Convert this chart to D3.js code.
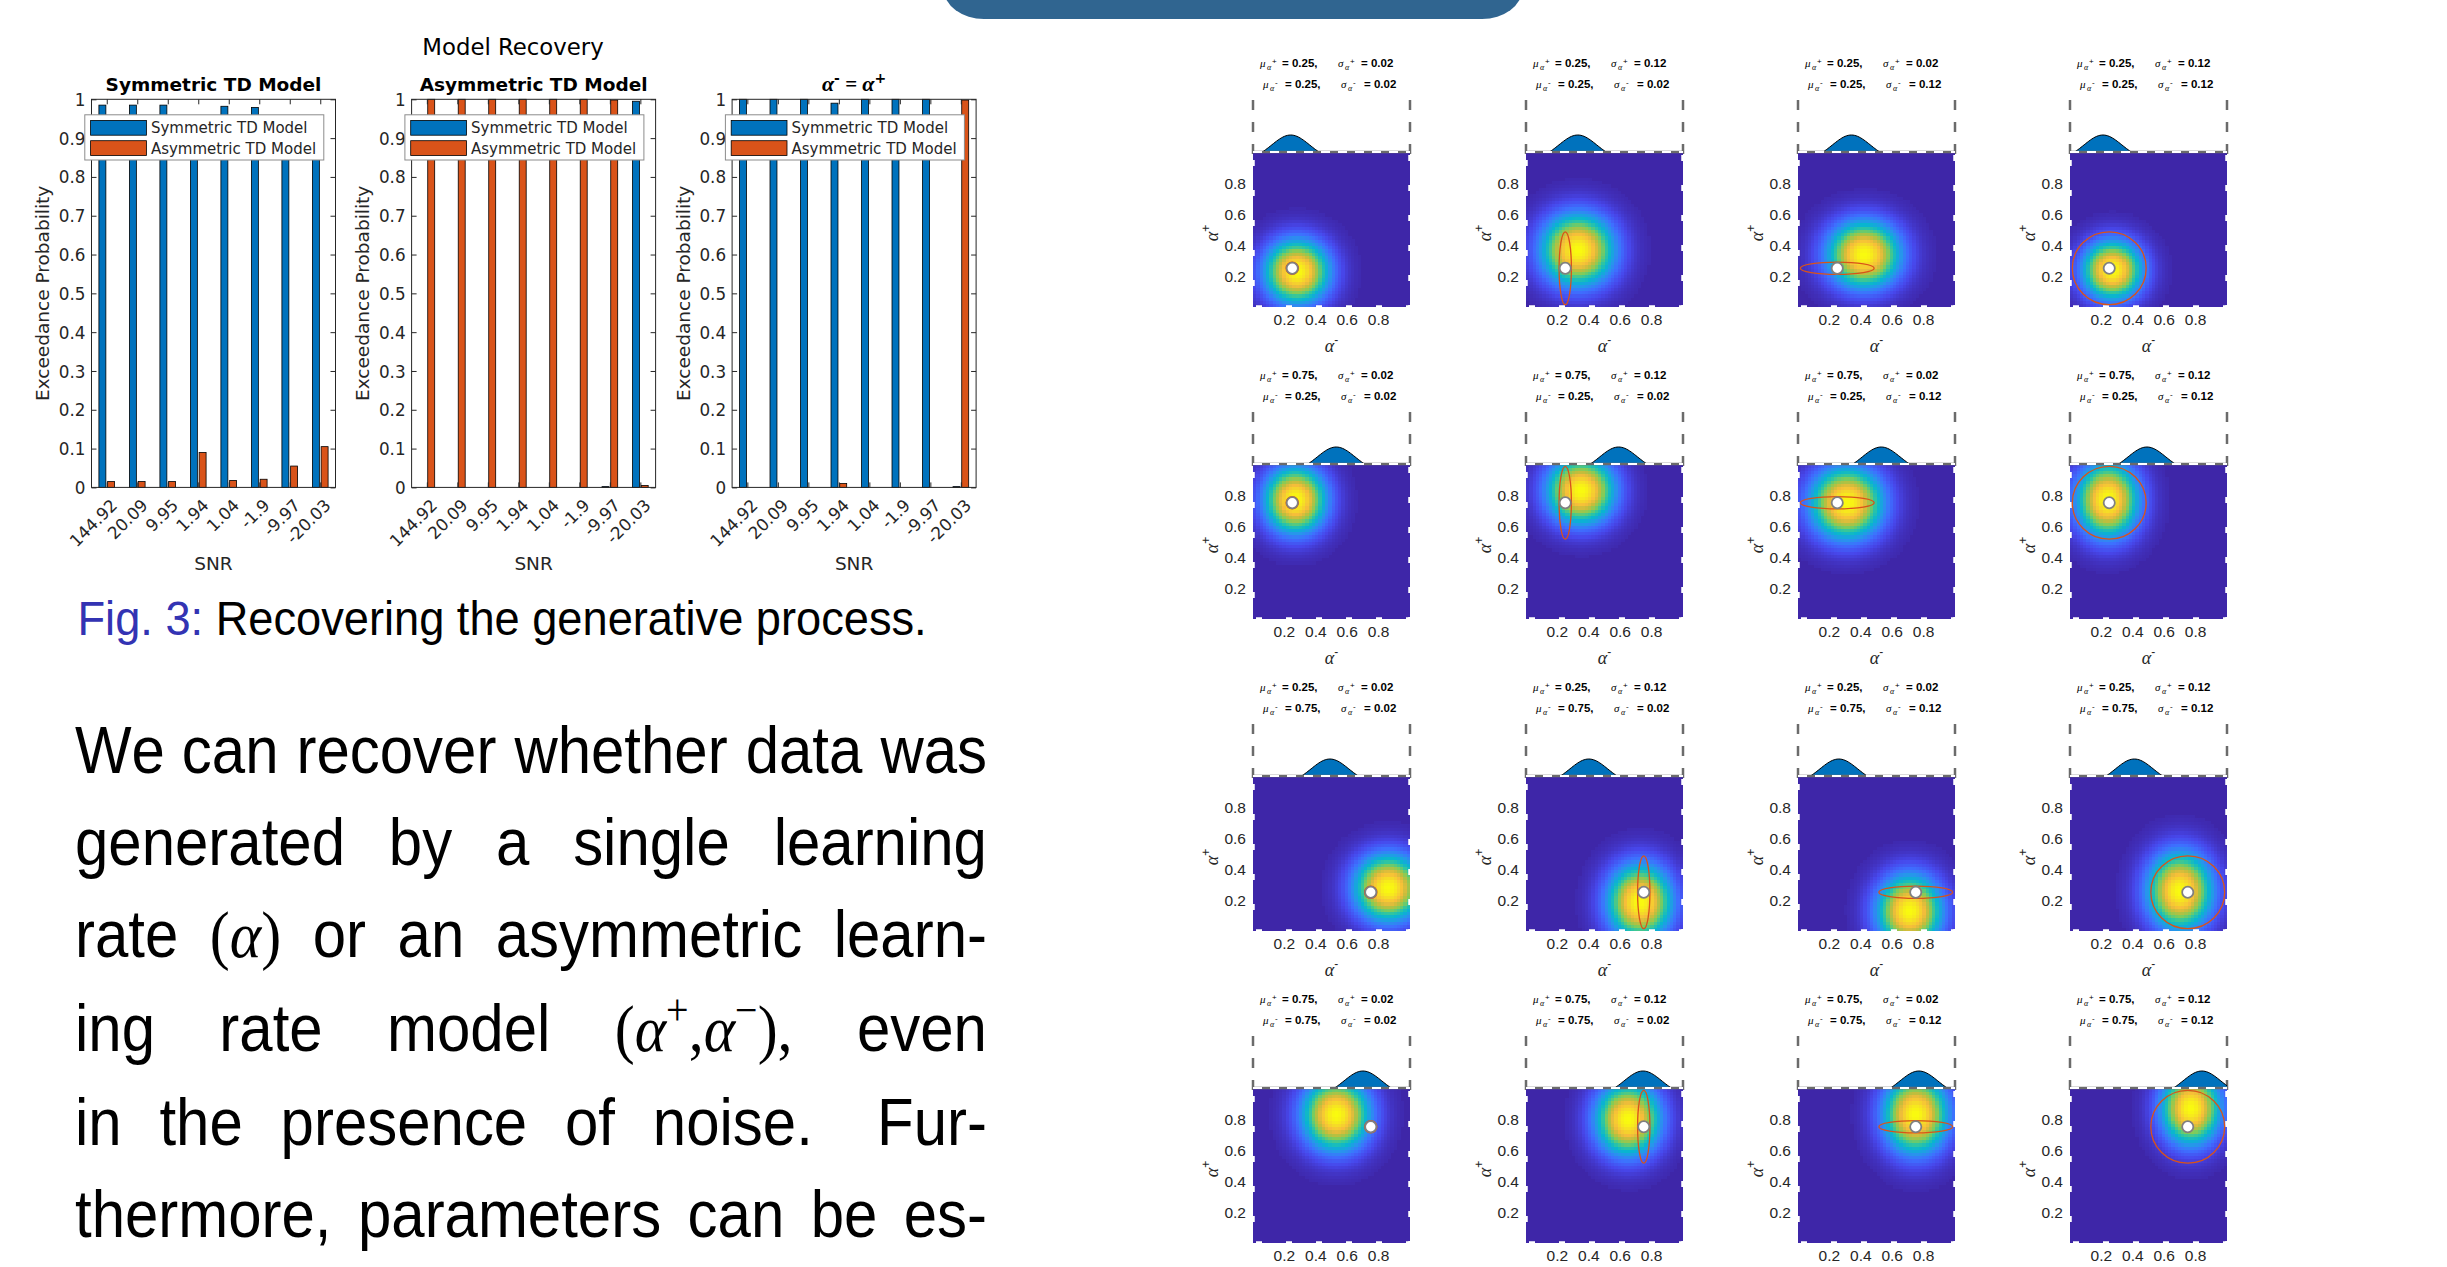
<!DOCTYPE html>
<html>
<head>
<meta charset="utf-8">
<script src="https://cdn.jsdelivr.net/npm/d3@7"></script>
<style>
  body { margin: 0; background: #fff; }
</style>
</head>
<body>
<svg id="fig" width="2447" height="1267"></svg>
<script>
// ---------- data: model recovery bar charts ----------
var snrLabels = ["144.92", "20.09", "9.95", "1.94", "1.04", "-1.9", "-9.97", "-20.03"];
var legendNames = ["Symmetric TD Model", "Asymmetric TD Model"];
var probTicks = [0, 0.1, 0.2, 0.3, 0.4, 0.5, 0.6, 0.7, 0.8, 0.9, 1];

// exceedance probabilities, one value per SNR level
var symGenSym  = [0.985, 0.985, 0.985, 0.91, 0.982, 0.979, 0.945, 0.895];
var symGenAsym = [0.015, 0.015, 0.015, 0.09, 0.018, 0.021, 0.055, 0.105];
var asymGenSym  = [0, 0, 0, 0, 0, 0, 0.002, 0.995];
var asymGenAsym = [1, 1, 1, 1, 1, 1, 0.998, 0.005];
var eqGenSym  = [1, 1, 1, 0.99, 1, 1, 1, 0.002];
var eqGenAsym = [0, 0, 0, 0.01, 0, 0, 0, 0.998];

// ---------- data: parameter recovery grid ----------
// true means per row, true sds per column
var muPlus   = [0.25, 0.75, 0.25, 0.75];
var muMinus  = [0.25, 0.25, 0.75, 0.75];
var sdPlus   = [0.02, 0.12, 0.02, 0.12];
var sdMinus  = [0.02, 0.02, 0.12, 0.12];
// recovered density peak (alpha-, alpha+) and spread, read per panel (row by row)
var peakMinus = [0.28, 0.33, 0.42, 0.27,  0.27, 0.35, 0.31, 0.24,  0.86, 0.725, 0.71, 0.70,  0.53, 0.65, 0.75, 0.77];
var peakPlus  = [0.23, 0.37, 0.34, 0.24,  0.77, 0.83, 0.75, 0.77,  0.28, 0.19, 0.13, 0.26,  0.83, 0.80, 0.83, 0.87];
var spreadMinus = [0.12, 0.135, 0.135, 0.11,  0.115, 0.125, 0.135, 0.115,  0.125, 0.12, 0.12, 0.12,  0.125, 0.12, 0.12, 0.11];
var spreadPlus  = [0.12, 0.135, 0.125, 0.11,  0.125, 0.125, 0.135, 0.14,  0.125, 0.14, 0.135, 0.145, 0.135, 0.135, 0.145, 0.135];
// centre of the marginal bump drawn above each panel
var bumpCenter = [0.24, 0.33, 0.34, 0.21,  0.53, 0.59, 0.53, 0.49,  0.49, 0.40, 0.26, 0.41,  0.70, 0.745, 0.77, 0.84];
var alphaTicks = [0.2, 0.4, 0.6, 0.8];

// parula colour map
var parulaPos = [0, 0.1, 0.2, 0.3, 0.4, 0.5, 0.6, 0.7, 0.8, 0.9, 1];
var parulaCol = ["#3e26a8", "#4747eb", "#3e6fff", "#2796eb", "#08b5d0", "#31c69f",
                 "#81cc59", "#c2bd3c", "#f6bd3a", "#f5dc27", "#f9fb0e"];

// ---------- data: text ----------
var paraLines = [
  ["We", "can", "recover", "whether", "data", "was"],
  ["generated", "by", "a", "single", "learning"],
  ["rate", "(α)", "or", "an", "asymmetric", "learn-"],
  ["ing", "rate", "model", "(α+,α−),", "even"],
  ["in", "the", "presence", "of", "noise.", "Fur-"],
  ["thermore,", "parameters", "can", "be", "es-"]
];

var svg = d3.select("#fig");
var ink = "#262626";
var sans = "'DejaVu Sans', sans-serif";
var helv = "'Liberation Sans', Arial, sans-serif";
var serif = "'Liberation Serif', 'Times New Roman', serif";

// header tab of the poster
svg.append("rect")
  .attr("x", 944).attr("y", -40)
  .attr("width", 578).attr("height", 59)
  .attr("rx", 40)
  .attr("fill", "#306590");

// ================= bar charts =================
svg.append("text")
  .attr("x", 513).attr("y", 55)
  .attr("text-anchor", "middle")
  .style("font-family", sans).style("font-size", "22.8px")
  .attr("fill", "#000")
  .text("Model Recovery");

var barLeft = [91.5, 411.6, 732.1];
var barWidth = 244;
var barTop = 99.3, barBottom = 487.4;
var chartSets = [
  { title: "Symmetric TD Model", series: [symGenSym, symGenAsym] },
  { title: "Asymmetric TD Model", series: [asymGenSym, asymGenAsym] },
  { title: null, series: [eqGenSym, eqGenAsym] }
];
var seriesColors = ["#0072BD", "#D95319"];
var yProb = d3.scaleLinear().domain([0, 1]).range([barBottom, barTop]);

chartSets.forEach(function(set, ci) {
  var L = barLeft[ci];
  var x = d3.scaleLinear().domain([0.5, 8.5]).range([L, L + barWidth]);
  var g = svg.append("g");

  // bars
  set.series.forEach(function(vals, si) {
    var off = si === 0 ? -0.143 : 0.143;
    g.selectAll(null)
      .data(vals)
      .enter()
      .append("rect")
      .attr("x", function(d, i) { return x(i + 1 + off - 0.114); })
      .attr("width", function(d, i) { return x(i + 1 + off + 0.114) - x(i + 1 + off - 0.114); })
      .attr("y", function(d) { return yProb(d); })
      .attr("height", function(d) { return barBottom - yProb(d); })
      .attr("fill", seriesColors[si])
      .attr("stroke", "#000")
      .attr("stroke-width", 0.8);
  });

  // axes, MATLAB style: ticks inside, box on
  var yAxis = d3.axisLeft(yProb).tickValues(probTicks).tickSizeInner(-5).tickSizeOuter(0)
    .tickPadding(6).tickFormat(d3.format("~g"));
  var gy = g.append("g").attr("transform", "translate(" + L + ",0)").call(yAxis);
  var yAxisR = d3.axisRight(yProb).tickValues(probTicks).tickSizeInner(-5).tickSizeOuter(0).tickFormat("");
  var gyr = g.append("g").attr("transform", "translate(" + (L + barWidth) + ",0)").call(yAxisR);

  var xAxis = d3.axisBottom(x).tickValues(d3.range(1, 9)).tickSizeInner(-5).tickSizeOuter(0)
    .tickFormat(function(d) { return snrLabels[d - 1]; });
  var gx = g.append("g").attr("transform", "translate(0," + barBottom + ")").call(xAxis);
  var xAxisT = d3.axisTop(x).tickValues(d3.range(1, 9)).tickSizeInner(-5).tickSizeOuter(0).tickFormat("");
  var gxt = g.append("g").attr("transform", "translate(0," + barTop + ")").call(xAxisT);

  [gy, gyr, gx, gxt].forEach(function(a) {
    a.select(".domain").remove();
    a.selectAll(".tick line").attr("stroke", ink);
    a.selectAll(".tick text").attr("fill", ink).style("font-family", sans).style("font-size", "16.8px");
  });
  gy.selectAll(".tick text").attr("dy", "0.36em");
  gx.selectAll(".tick text")
    .attr("x", 0).attr("y", 0).attr("dy", 0)
    .attr("text-anchor", "end")
    .attr("transform", "translate(11,19) rotate(-45)");

  g.append("rect")
    .attr("x", L).attr("y", barTop)
    .attr("width", barWidth).attr("height", barBottom - barTop)
    .attr("fill", "none").attr("stroke", ink).attr("stroke-width", 1);

  // labels
  g.append("text")
    .attr("transform", "translate(" + (L - 49) + "," + ((barTop + barBottom) / 2) + ") rotate(-90)")
    .attr("text-anchor", "middle").attr("dy", "0.36em")
    .style("font-family", sans).style("font-size", "18.5px").attr("fill", ink)
    .text("Exceedance Probability");
  g.append("text")
    .attr("x", L + barWidth / 2).attr("y", 570)
    .attr("text-anchor", "middle")
    .style("font-family", sans).style("font-size", "18.5px").attr("fill", ink)
    .text("SNR");

  var title = g.append("text")
    .attr("x", L + barWidth / 2).attr("y", 91)
    .attr("text-anchor", "middle")
    .style("font-family", sans).style("font-size", "18.5px").style("font-weight", "bold")
    .attr("fill", "#000");
  if (set.title) {
    title.text(set.title);
  } else {
    title.append("tspan").style("font-family", serif).style("font-style", "italic").style("font-size", "22px").text("α");
    title.append("tspan").attr("dy", -8).style("font-size", "14px").text("-");
    title.append("tspan").attr("dy", 8).style("font-family", serif).style("font-size", "21px").text(" = ");
    title.append("tspan").style("font-family", serif).style("font-style", "italic").style("font-size", "22px").text("α");
    title.append("tspan").attr("dy", -8).style("font-size", "14px").text("+");
  }

  // legend
  var lg = g.append("g").attr("transform", "translate(" + (L - 6.7) + ",114.8)");
  lg.append("rect")
    .attr("width", 239).attr("height", 45.2)
    .attr("fill", "#fff").attr("stroke", "#8c8c8c").attr("stroke-width", 1);
  legendNames.forEach(function(name, li) {
    lg.append("rect")
      .attr("x", 5.8).attr("y", 5.6 + li * 20.3)
      .attr("width", 55.8).attr("height", 14.8)
      .attr("fill", seriesColors[li]).attr("stroke", "#000").attr("stroke-width", 0.8);
    lg.append("text")
      .attr("x", 66.1).attr("y", 18.5 + li * 20.4)
      .style("font-family", sans).style("font-size", "15px").attr("fill", ink)
      .text(name);
  });
});

// ================= parameter recovery grid =================
var colLeft = [1253, 1526, 1798, 2070];
var rowTop = [152, 464, 776, 1088];
var hmW = 157, hmH = 155, nCells = 48;
var cellCentres = d3.range(nCells).map(function(i) { return (i + 0.5) / nCells; });
var parula = d3.scaleLinear().domain(parulaPos).range(parulaCol).interpolate(d3.interpolateRgb);
var bumpXs = d3.range(0, 101).map(function(i) { return i / 100; });
var pageH = 1267;

function paramLine(g, x0, y0, sign, mu, sd) {
  var t = g.append("text").attr("y", y0).attr("fill", "#000");
  t.append("tspan").attr("x", x0).style("font-family", serif).style("font-style", "italic").style("font-size", "11px").text("μ");
  t.append("tspan").attr("x", x0 + 7).attr("dy", 3).style("font-family", serif).style("font-style", "italic").style("font-size", "8px").text("α");
  t.append("tspan").attr("x", x0 + 12).attr("dy", -6).style("font-family", helv).style("font-size", "8px").text(sign);
  t.append("tspan").attr("x", x0 + 22).attr("dy", 3).style("font-family", helv).style("font-weight", "bold").style("font-size", "11.5px")
    .text("= " + mu.toFixed(2) + ",");
  var s = g.append("text").attr("y", y0).attr("fill", "#000");
  s.append("tspan").attr("x", x0 + 78).style("font-family", serif).style("font-style", "italic").style("font-size", "11px").text("σ");
  s.append("tspan").attr("x", x0 + 85).attr("dy", 3).style("font-family", serif).style("font-style", "italic").style("font-size", "8px").text("α");
  s.append("tspan").attr("x", x0 + 90).attr("dy", -6).style("font-family", helv).style("font-size", "8px").text(sign);
  s.append("tspan").attr("x", x0 + 101).attr("dy", 3).style("font-family", helv).style("font-weight", "bold").style("font-size", "11.5px")
    .text("= " + sd.toFixed(2));
}

rowTop.forEach(function(T, r) {
  colLeft.forEach(function(L, c) {
    var k = r * 4 + c;
    var x = d3.scaleLinear().domain([0, 1]).range([L, L + hmW]);
    var y = d3.scaleLinear().domain([0, 1]).range([T + hmH, T]);
    var g = svg.append("g");

    // parameter text
    paramLine(g, L + 7, T - 85, "+", muPlus[r], sdPlus[c]);
    paramLine(g, L + 10, T - 64, "-", muMinus[r], sdMinus[c]);

    // dashed frame of the marginal axes
    [L, L + hmW].forEach(function(xx) {
      g.append("line")
        .attr("x1", xx).attr("x2", xx).attr("y1", T - 52).attr("y2", T + 5)
        .attr("stroke", "#6b6b6b").attr("stroke-width", 2.5).attr("stroke-dasharray", "10,12");
    });

    // marginal bump
    var bumpY = function(d) {
      return T + 8 - 25 * Math.exp(-Math.pow(d - bumpCenter[k], 2) / (2 * 0.12 * 0.12));
    };
    g.append("path")
      .datum(bumpXs)
      .attr("d", d3.area().x(function(d) { return x(d); }).y0(T + 8).y1(bumpY))
      .attr("fill", "#0072BD");
    g.append("path")
      .datum(bumpXs)
      .attr("d", d3.line().x(function(d) { return x(d); }).y(bumpY))
      .attr("fill", "none").attr("stroke", "#000").attr("stroke-width", 1);

    // density heat map
    g.append("rect")
      .attr("x", L).attr("y", T).attr("width", hmW).attr("height", hmH)
      .attr("fill", parula(0));
    var cells = [];
    cellCentres.forEach(function(cx) {
      cellCentres.forEach(function(cy) {
        var v = Math.exp(-0.5 * Math.pow((cx - peakMinus[k]) / spreadMinus[k], 2)
                         -0.5 * Math.pow((cy - peakPlus[k]) / spreadPlus[k], 2));
        if (v > 0.003) cells.push({ a: cx, b: cy, v: Math.pow(v, 0.78) });
      });
    });
    g.selectAll(null)
      .data(cells)
      .enter()
      .append("rect")
      .attr("x", function(d) { return x(d.a - 0.5 / nCells); })
      .attr("y", function(d) { return y(d.b + 0.5 / nCells); })
      .attr("width", hmW / nCells + 0.4)
      .attr("height", hmH / nCells + 0.4)
      .attr("fill", function(d) { return parula(d.v); })
      .attr("shape-rendering", "crispEdges");

    // top border and white dashed box
    g.append("line")
      .attr("x1", L).attr("x2", L + hmW).attr("y1", T).attr("y2", T)
      .attr("stroke", "#6b6b6b").attr("stroke-width", 2.5);
    g.append("line")
      .attr("x1", L).attr("x2", L + hmW).attr("y1", T).attr("y2", T)
      .attr("stroke", "#fff").attr("stroke-width", 2).attr("stroke-dasharray", "9,8");
    g.append("path")
      .attr("d", "M" + L + "," + T + "V" + (T + hmH) + "H" + (L + hmW) + "V" + T)
      .attr("fill", "none").attr("stroke", "#fff").attr("stroke-width", 3.5)
      .attr("stroke-dasharray", "6,24").attr("stroke-dashoffset", -8);

    // true value: 95% ellipse and marker
    g.append("ellipse")
      .attr("cx", x(muMinus[r])).attr("cy", y(muPlus[r]))
      .attr("rx", x(1.96 * sdMinus[c]) - x(0))
      .attr("ry", y(0) - y(1.96 * sdPlus[c]))
      .attr("fill", "none").attr("stroke", "#D95319").attr("stroke-width", 1.3);
    g.append("circle")
      .attr("cx", x(muMinus[r])).attr("cy", y(muPlus[r]))
      .attr("r", 5.6)
      .attr("fill", "#fff").attr("stroke", "#808080").attr("stroke-width", 1.8);

    // tick labels
    g.selectAll(null).data(alphaTicks).enter().append("text")
      .attr("x", L - 7).attr("y", function(d) { return y(d); }).attr("dy", "0.36em")
      .attr("text-anchor", "end")
      .style("font-family", helv).style("font-size", "15.5px").attr("fill", ink)
      .text(function(d) { return d.toFixed(1); });
    g.selectAll(null).data(alphaTicks).enter().append("text")
      .attr("x", function(d) { return x(d); }).attr("y", T + hmH + 18)
      .attr("text-anchor", "middle")
      .style("font-family", helv).style("font-size", "15.5px").attr("fill", ink)
      .text(function(d) { return d.toFixed(1); });

    // axis labels
    var yl = g.append("text")
      .attr("transform", "translate(" + (L - 35) + "," + (T + 81) + ") rotate(-90)")
      .attr("text-anchor", "middle").attr("fill", ink);
    yl.append("tspan").style("font-family", serif).style("font-style", "italic").style("font-size", "18px").text("α");
    yl.append("tspan").attr("dy", -8).style("font-family", helv).style("font-size", "12px").text("+");
    if (T + hmH + 45 < pageH) {
      var xl = g.append("text")
        .attr("x", x(0.5)).attr("y", T + hmH + 45)
        .attr("text-anchor", "middle").attr("fill", ink);
      xl.append("tspan").style("font-family", serif).style("font-style", "italic").style("font-size", "18px").text("α");
      xl.append("tspan").attr("dy", -8).style("font-family", helv).style("font-size", "12px").text("-");
    }
  });
});

// ================= caption and paragraph =================
var cap = svg.append("g");
var capText = cap.append("text")
  .style("font-family", helv).style("font-size", "48px");
capText.append("tspan").attr("fill", "#3333b3").text("Fig. 3:");
capText.append("tspan").attr("fill", "#000").text(" Recovering the generative process.");
var capW = capText.node().getComputedTextLength();
cap.attr("transform", "translate(77.5,635) scale(" + (849.5 / capW) + ",1)");

var paraSize = 66;
var paraBase = [773, 865, 957, 1051, 1145, 1237];
var paraX0 = 75, paraX1 = 987;

function addToken(parent, tok) {
  var t = parent.append("text")
    .style("font-family", helv).style("font-size", paraSize + "px").attr("fill", "#000");
  var hasMath = tok.indexOf("α") >= 0;
  var prevAlpha = false;
  var raised = false;
  Array.from(tok).forEach(function(ch) {
    var sp = t.append("tspan").text(ch);
    if (raised) { sp.attr("dy", 26); raised = false; }
    if (ch === "α") {
      sp.style("font-family", serif).style("font-style", "italic");
      prevAlpha = true;
      return;
    }
    if (prevAlpha && (ch === "+" || ch === "−")) {
      sp.attr("dy", -26).style("font-family", serif).style("font-size", "44px");
      raised = true;
    } else if (hasMath) {
      sp.style("font-family", serif);
    }
    prevAlpha = false;
  });
  return t;
}

var lineGroups = paraLines.map(function(words, li) {
  var g = svg.append("g");
  var toks = words.map(function(w) { return addToken(g, w); });
  var widths = toks.map(function(t) { return t.node().getComputedTextLength(); });
  return { g: g, words: words, toks: toks, widths: widths };
});

// compress glyphs so the first line sits at natural spacing, then justify every line
var first = lineGroups[0];
var natSpace = 0.3 * paraSize;
var sx = (paraX1 - paraX0) / (d3.sum(first.widths) + (first.words.length - 1) * natSpace);
var lineLen = (paraX1 - paraX0) / sx;

lineGroups.forEach(function(lg, li) {
  var weights = lg.words.slice(0, -1).map(function(w) { return /\.$/.test(w) ? 1.7 : 1; });
  var unit = (lineLen - d3.sum(lg.widths)) / d3.sum(weights);
  var pos = 0;
  lg.toks.forEach(function(t, i) {
    t.attr("x", pos);
    t.selectAll("tspan").filter(function(d, j) { return j === 0; }).attr("x", pos);
    pos += lg.widths[i] + (i < weights.length ? weights[i] * unit : 0);
  });
  lg.g.attr("transform", "translate(" + paraX0 + "," + paraBase[li] + ") scale(" + sx + ",1)");
});
</script>
</body>
</html>
